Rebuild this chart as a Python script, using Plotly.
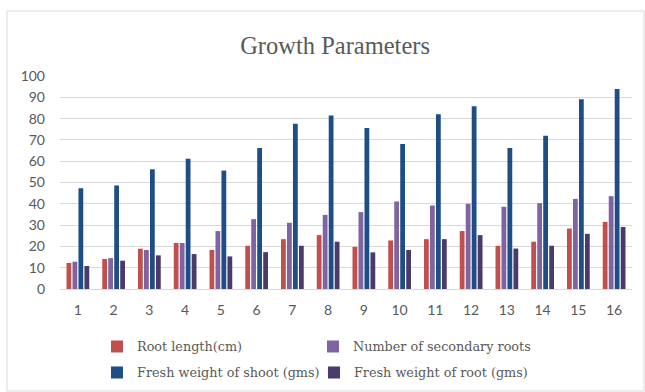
import plotly.graph_objects as go

# Sample numbers 1-16
samples = [str(i) for i in range(1, 17)]

root_length = [12.2, 14.1, 18.9, 21.6, 18.3, 20.3, 23.4, 25.3,
               19.8, 22.8, 23.4, 27.2, 20.3, 22.2, 28.4, 31.5]
secondary_roots = [12.8, 14.5, 18.3, 21.6, 27.2, 32.8, 31.1, 34.8,
                   36.1, 41.1, 39.2, 40.0, 38.6, 40.3, 42.3, 43.6]
shoot_weight = [47.3, 48.6, 56.2, 61.2, 55.6, 66.2, 77.6, 81.4,
                75.6, 68.1, 82.0, 85.8, 66.2, 71.9, 89.1, 93.9]
root_weight = [10.8, 13.3, 15.8, 16.4, 15.3, 17.3, 20.3, 22.2,
               17.2, 18.3, 23.4, 25.3, 19.0, 20.3, 25.9, 29.1]

# (name, values, colour, legend id) -- one legend box per entry so the
# 2x2 legend grid can be placed freely
series = [
    ("Root length(cm)", root_length, "#C0504D", "legend"),
    ("Number of secondary roots", secondary_roots, "#8064A2", "legend2"),
    ("Fresh weight of shoot (gms)", shoot_weight, "#1F4E87", "legend3"),
    ("Fresh weight of root (gms)", root_weight, "#4B3B6B", "legend4"),
]

fig = go.Figure()
for name, vals, color, leg in series:
    fig.add_trace(go.Bar(x=samples, y=vals, name=name, legend=leg,
                         marker=dict(color=color, line=dict(width=0))))

text_gray = "#595959"
legend_font = dict(family="DejaVu Serif", size=12.8, color=text_gray)


def legend_box(x, y):
    return dict(x=x, xanchor="left", y=y, yanchor="top", font=legend_font,
                bgcolor="rgba(0,0,0,0)")


fig.update_layout(
    width=645, height=392,
    margin=dict(l=60, r=13, t=76, b=103, autoexpand=False),
    paper_bgcolor="white", plot_bgcolor="white",
    showlegend=True,
    barmode="group", bargap=0.33, bargroupgap=0.2,
    title=dict(text="Growth Parameters", x=0.5195, xanchor="center",
               y=0.883, yanchor="middle",
               font=dict(family="Liberation Serif", size=24.5, color=text_gray)),
    xaxis=dict(showgrid=False, showline=True, linecolor="#D9D9D9", linewidth=1,
               ticks="", tickfont=dict(family="Lato", size=14, color=text_gray),
               ticklabelstandoff=8),
    yaxis=dict(range=[0, 100], dtick=10, showgrid=True, gridcolor="#D9D9D9",
               gridwidth=1, zeroline=False, showline=False, ticks="",
               tickfont=dict(family="Lato", size=14, color=text_gray),
               ticklabelstandoff=14),
    legend=legend_box(0.0647, -0.2),
    legend2=legend_box(0.4423, -0.2),
    legend3=legend_box(0.0647, -0.322),
    legend4=legend_box(0.444, -0.322),
    shapes=[dict(type="rect", xref="paper", yref="paper",
                 x0=-0.0927, x1=1.021, y0=-0.479, y1=1.305,
                 line=dict(color="#D9D9D9", width=1), layer="below")],
)

fig.write_html("out.html")
